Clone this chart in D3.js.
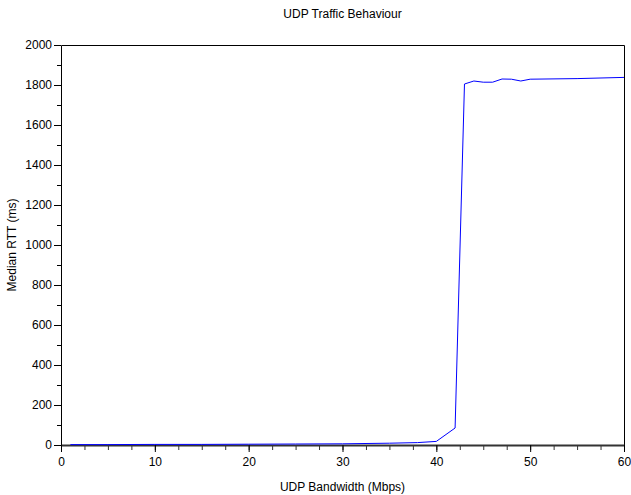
<!DOCTYPE html>
<html>
<head>
<meta charset="utf-8">
<script src="https://cdn.jsdelivr.net/npm/d3@7"></script>
<style>
  body { margin: 0; background: #fff; }
  svg text { font-family: "Liberation Sans", Arial, sans-serif; font-size: 12px; fill: #000; }
</style>
</head>
<body>
<div id="chart"></div>
<script>
var bandwidth = [1, 5, 10, 15, 20, 25, 30, 35, 38, 40, 42, 43, 44, 45, 46, 47, 48, 49, 50, 55, 60];
var medianRtt = [2, 2, 3, 3, 4, 5, 6, 9, 12, 18, 85, 1805, 1820, 1814, 1814, 1830, 1829, 1820, 1829, 1832, 1838];
var xTicks = [0, 10, 20, 30, 40, 50, 60];
var yTicks = [0, 200, 400, 600, 800, 1000, 1200, 1400, 1600, 1800, 2000];

var W = 631, H = 495;
var margin = {top: 45, right: 7, bottom: 50, left: 61};
var width = W - margin.left - margin.right,
    height = H - margin.top - margin.bottom;

var svg = d3.select("#chart").append("svg")
    .attr("width", W)
    .attr("height", H);

var g = svg.append("g")
    .attr("transform", "translate(" + margin.left + "," + margin.top + ")");

var x = d3.scaleLinear().domain([0, 60]).range([0, width]);
var y = d3.scaleLinear().domain([0, 2000]).range([height, 0]);

// frame (top + right)
g.append("path")
    .attr("d", "M0.5,0.5H" + (width + 0.5) + "V" + height)
    .attr("fill", "none")
    .attr("stroke", "#000");

// minor ticks
g.append("g")
    .attr("transform", "translate(0," + height + ")")
    .call(d3.axisBottom(x).tickValues(d3.range(0, 60.1, 2.5)).tickSize(5).tickFormat(""))
    .call(function(s) { s.select(".domain").remove(); s.selectAll("line").attr("stroke", "#333"); });

g.append("g")
    .call(d3.axisLeft(y).tickValues(d3.range(0, 2001, 100)).tickSize(4).tickFormat(""))
    .call(function(s) { s.select(".domain").remove(); });

// major axes
var xAxis = g.append("g")
    .attr("transform", "translate(0," + height + ")")
    .call(d3.axisBottom(x).tickValues(xTicks).tickSize(7).tickPadding(5).tickSizeOuter(0));
xAxis.select(".domain").attr("stroke", "#333").attr("stroke-width", 2);
xAxis.selectAll("text").style("font-size", "12px");

var yAxis = g.append("g")
    .call(d3.axisLeft(y).tickValues(yTicks).tickFormat(d3.format("d")).tickSize(7).tickPadding(2).tickSizeOuter(0));
yAxis.selectAll("text").style("font-size", "12px");

// data line
var line = d3.line()
    .x(function(d, i) { return x(bandwidth[i]); })
    .y(function(d) { return y(d); });

g.append("path")
    .datum(medianRtt)
    .attr("d", line)
    .attr("fill", "none")
    .attr("stroke", "#0000ff")
    .attr("stroke-width", 1);

// titles
svg.append("text")
    .attr("x", margin.left + width / 2)
    .attr("y", 18)
    .attr("text-anchor", "middle")
    .text("UDP Traffic Behaviour");

svg.append("text")
    .attr("x", margin.left + width / 2)
    .attr("y", 491)
    .attr("text-anchor", "middle")
    .text("UDP Bandwidth (Mbps)");

svg.append("text")
    .attr("transform", "translate(16," + (margin.top + height / 2) + ") rotate(-90)")
    .attr("text-anchor", "middle")
    .text("Median RTT (ms)");
</script>
</body>
</html>
